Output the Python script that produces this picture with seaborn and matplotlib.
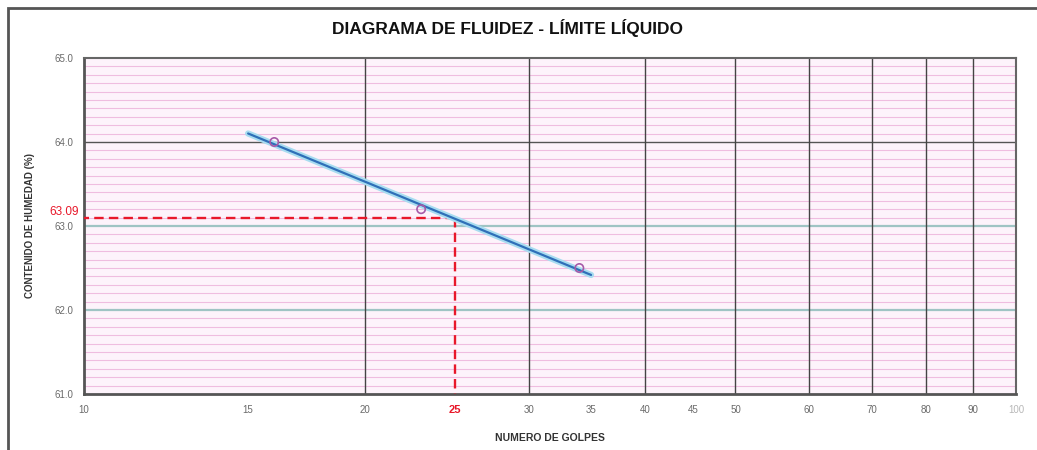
import numpy as np
import pandas as pd
import matplotlib
matplotlib.use("Agg")
import matplotlib.pyplot as plt
from matplotlib.patches import Rectangle
import seaborn as sns

# Ensayo de límite líquido (Casagrande)
golpes = [16, 23, 34]
humedad = [64.0, 63.2, 62.5]
rango_recta = [15, 35]
golpes_ref = 25

x_ticks = [10, 15, 20, 25, 30, 35, 40, 45, 50, 60, 70, 80, 90, 100]
x_grid = [20, 30, 40, 50, 60, 70, 80, 90]
y_ticks = [61.0, 62.0, 63.0, 64.0, 65.0]

# Recta de fluidez: humedad vs log10(golpes)
pend, orde = np.polyfit(np.log10(golpes), humedad, 1)
recta_x = np.array(rango_recta, dtype=float)
recta = pd.DataFrame({"golpes": recta_x, "humedad": orde + pend * np.log10(recta_x)})
ll = round(orde + pend * np.log10(golpes_ref), 2)
puntos = pd.DataFrame({"golpes": golpes, "humedad": humedad})

sns.set_theme(style="white")
plt.rcParams["font.family"] = ["Liberation Sans", "DejaVu Sans"]

fig = plt.figure(figsize=(10.37, 4.5), dpi=100)
ax = fig.add_axes([84 / 1037, 56 / 450, 932 / 1037, 336 / 450])
ax.set_facecolor("#fdf3fb")

ax.set_xscale("log")
ax.set_xlim(10, 100)
ax.set_ylim(61, 65)

# Cuadrícula menor cada 0.1 %
for yv in np.arange(61.1, 65.0, 0.1):
    if abs(yv - round(yv)) > 0.01:
        ax.axhline(yv, color="#efbde0", lw=0.8, zorder=1)
ax.axhline(64.0, color="#555555", lw=1.0, zorder=1.5)
ax.axhline(63.0, color="#9fc4c4", lw=1.6, zorder=1.5)
ax.axhline(62.0, color="#9fc4c4", lw=1.6, zorder=1.5)
for xv in x_grid:
    ax.axvline(xv, color="#444444", lw=1.0, zorder=1.5)

# Líneas de referencia para N = 25 (trazadas desde la intersección)
ax.plot([golpes_ref, 10], [ll, ll], color="#e8182a", lw=1.7, ls=(0, (4, 2.2)), zorder=3)
ax.plot([golpes_ref, golpes_ref], [ll, 61], color="#e8182a", lw=1.7, ls=(0, (4, 2.2)), zorder=3)

# Recta de fluidez con halo claro
sns.lineplot(data=recta, x="golpes", y="humedad", ax=ax, color="#a8dcf0", lw=4.5, zorder=4)
sns.lineplot(data=recta, x="golpes", y="humedad", ax=ax, color="#2f6fb8", lw=1.6, zorder=5)
sns.scatterplot(data=puntos, x="golpes", y="humedad", ax=ax, marker="o", s=36,
                facecolor="none", edgecolor="#a65aa8", linewidth=1.2, zorder=6)

ax.set_xticks(x_ticks)
ax.set_xticklabels([str(t) for t in x_ticks])
ax.xaxis.set_minor_locator(matplotlib.ticker.NullLocator())
ax.set_yticks(y_ticks)
ax.set_yticklabels([f"{t:.1f}" for t in y_ticks])
ax.tick_params(axis="both", labelsize=7, labelcolor="#6a6a6a", length=3,
               color="#555555", direction="out", pad=5)
for lab in ax.get_xticklabels():
    if lab.get_text() == str(golpes_ref):
        lab.set_color("#e8182a")
        lab.set_fontweight("bold")
        lab.set_fontsize(8)
    if lab.get_text() == "100":
        lab.set_color("#b8b8b8")

ax.text(-0.006, ll, f"{ll:.2f}", transform=ax.get_yaxis_transform(), ha="right",
        va="bottom", color="#e8182a", fontsize=8.5)

for side in ["left", "bottom"]:
    ax.spines[side].set_linewidth(2.0)
    ax.spines[side].set_color("#555555")
for side in ["right", "top"]:
    ax.spines[side].set_linewidth(1.5)
    ax.spines[side].set_color("#666666")

ax.set_xlabel("NUMERO DE GOLPES", fontsize=7.5, fontweight="bold", color="#333333", labelpad=13)
ax.set_ylabel("CONTENIDO DE HUMEDAD (%)", fontsize=7, fontweight="bold", color="#333333", labelpad=14)
fig.text(508 / 1037, 1 - 28 / 450, "DIAGRAMA DE FLUIDEZ - LÍMITE LÍQUIDO", ha="center",
         va="center", fontsize=12.5, fontweight="bold", color="#111111")

fig.patches.append(Rectangle((8 / 1037, -0.1), 1.2, 1 - 8 / 450 + 0.1, transform=fig.transFigure,
                             fill=False, edgecolor="#555555", lw=2.0))

fig.savefig("out.png", dpi=100)
